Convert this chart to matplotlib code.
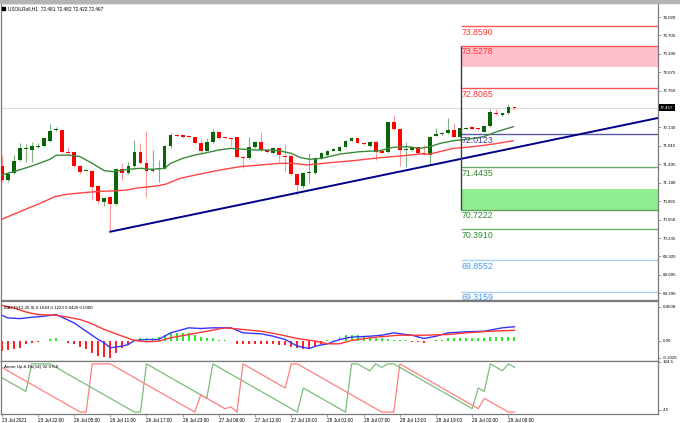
import matplotlib
matplotlib.use('Agg')
import matplotlib.pyplot as plt
import matplotlib.transforms as mtransforms
from matplotlib.patches import Rectangle
import numpy as np

plt.rcParams['font.family'] = ['Liberation Sans', 'DejaVu Sans']

# hourly candles USOILRoll H1, 86 bars
opens = [71.469, 71.229, 71.343, 71.572, 71.754, 71.743, 71.800, 71.811, 71.891, 72.085,
         72.085, 71.714, 71.703, 71.475, 71.389, 71.389, 71.126, 70.852, 70.944, 70.818,
         71.423, 71.355, 71.469, 71.703, 71.526, 71.389, 71.412, 71.423, 71.811, 71.999,
         71.999, 71.983, 71.960, 71.868, 71.731, 71.886, 72.051, 71.960, 71.954, 71.960,
         71.629, 71.600, 71.800, 71.886, 71.743, 71.697, 71.783, 71.646, 71.646, 71.332,
         71.132, 71.355, 71.355, 71.600, 71.651, 71.731, 71.725, 71.800, 71.902, 71.942,
         71.868, 71.811, 71.885, 71.731, 71.703, 72.216, 72.097, 71.743, 71.743, 71.788,
         71.686, 71.657, 71.988, 72.011, 72.028, 72.085, 71.971, 72.108, 72.131, 72.114,
         72.057, 72.154, 72.382, 72.342, 72.370, 72.481]
highs = [71.657, 71.360, 71.657, 71.857, 71.840, 71.886, 71.857, 71.971, 72.188, 72.131,
         72.091, 71.800, 71.714, 71.480, 71.412, 71.400, 71.140, 70.940, 70.950, 71.440,
         71.514, 71.543, 71.914, 71.857, 72.074, 71.743, 71.572, 71.830, 72.028, 72.010,
         72.010, 71.995, 71.971, 71.926, 71.943, 72.102, 72.060, 71.971, 71.965, 71.971,
         71.640, 71.960, 71.900, 72.057, 71.760, 71.800, 71.800, 71.840, 71.660, 71.340,
         71.370, 71.686, 71.620, 71.710, 71.745, 71.770, 71.815, 71.915, 71.971, 71.955,
         71.875, 71.895, 71.900, 71.740, 72.225, 72.342, 72.110, 71.885, 71.800, 71.800,
         71.828, 71.985, 72.114, 72.050, 72.285, 72.199, 72.125, 72.140, 72.145, 72.125,
         72.171, 72.439, 72.439, 72.380, 72.530, 72.482]
lows = [71.201, 71.201, 71.332, 71.560, 71.543, 71.543, 71.771, 71.800, 71.880, 72.074,
        71.697, 71.657, 71.457, 71.332, 71.383, 70.887, 70.818, 70.784, 70.344, 70.800,
        71.229, 71.340, 71.455, 71.514, 70.944, 71.372, 71.201, 71.410, 71.780, 71.960,
        71.950, 71.940, 71.850, 71.674, 71.720, 71.870, 71.937, 71.930, 71.811, 71.610,
        71.429, 71.590, 71.780, 71.730, 71.690, 71.680, 71.543, 71.372, 71.320, 70.972,
        71.086, 71.184, 71.340, 71.590, 71.640, 71.720, 71.710, 71.790, 71.890, 71.855,
        71.830, 71.800, 71.571, 71.690, 71.690, 72.085, 71.469, 71.457, 71.730, 71.674,
        71.660, 71.486, 71.975, 72.000, 72.020, 71.960, 71.960, 72.100, 72.100, 72.090,
        72.050, 72.145, 72.345, 72.330, 72.360, 72.422]
closes = [71.229, 71.332, 71.560, 71.783, 71.783, 71.811, 71.817, 71.948, 72.074, 72.091,
          71.703, 71.697, 71.475, 71.372, 71.400, 71.115, 70.870, 70.927, 70.818, 71.423,
          71.355, 71.469, 71.703, 71.526, 71.389, 71.412, 71.429, 71.811, 71.999, 71.983,
          71.971, 71.960, 71.868, 71.731, 71.886, 72.051, 71.948, 71.943, 71.937, 71.629,
          71.600, 71.800, 71.886, 71.743, 71.703, 71.783, 71.657, 71.629, 71.332, 71.144,
          71.355, 71.372, 71.600, 71.697, 71.731, 71.754, 71.800, 71.902, 71.942, 71.868,
          71.840, 71.885, 71.714, 71.697, 72.216, 72.097, 71.743, 71.765, 71.788, 71.686,
          71.674, 71.971, 72.011, 72.039, 72.085, 71.971, 72.114, 72.125, 72.108, 72.097,
          72.154, 72.399, 72.353, 72.370, 72.485, 72.467]

# moving averages (bar index, price)
green_ma_idx = [0, 2, 5, 8, 9, 11, 13, 15, 17, 18.5, 21, 23, 25, 27, 28, 30, 32, 34, 36, 38,
                39.5, 42, 44, 46, 48, 49.4, 51, 53, 56.1, 59.4, 62.7, 64.9, 67.2, 69.4, 71,
                72.7, 74.9, 77.1, 79.9, 82.1, 84.8]
green_ma = [71.315, 71.372, 71.469, 71.583, 71.652, 71.657, 71.629, 71.514, 71.389, 71.372,
            71.412, 71.429, 71.412, 71.429, 71.514, 71.600, 71.657, 71.697, 71.743, 71.771,
            71.760, 71.743, 71.743, 71.731, 71.686, 71.617, 71.583, 71.600, 71.674, 71.714,
            71.731, 71.788, 71.800, 71.771, 71.800, 71.857, 71.902, 71.925, 71.971, 72.057,
            72.142]
red_ma_idx = [0, 3, 6.4, 8.8, 10.8, 13.5, 16.3, 18.5, 20.7, 22.9, 25.7, 27.3, 29.6, 32.9,
              36.2, 39.5, 42.8, 46.1, 48.3, 50.6, 52.8, 54.4, 58.3, 62.7, 66.1, 69.4, 71,
              74.9, 78.2, 81.5, 84.8]
red_ma = [70.556, 70.687, 70.830, 70.944, 70.984, 71.012, 71.035, 71.041, 71.058, 71.098,
          71.126, 71.161, 71.258, 71.332, 71.400, 71.457, 71.486, 71.514, 71.514, 71.486,
          71.508, 71.526, 71.560, 71.611, 71.640, 71.674, 71.674, 71.771, 71.800, 71.845,
          71.900]

trend_x = [18, 108.8]
trend_y = [70.344, 72.291]

level_start = 76.1
level_values = [74.3846, 73.8590, 73.5278, 72.8065, 72.0123, 71.4435, 70.7222, 70.3910,
                69.8552, 69.3159]
level_labels = ['74.3846', '73.8590', '73.5278', '72.8065', '72.0123', '71.4435', '70.7222',
                '70.3910', '69.8552', '69.3159']
level_line_colors = ['#a8cff5', '#ff5555', '#ff5555', '#ff5555', '#5a5aa8', '#6aaf6a',
                     '#5f9f5f', '#6aaf6a', '#a8cff5', '#a8cff5']
level_text_colors = ['#4499ee', '#ff3333', '#ff3333', '#ff3333', '#3a3a9a', '#2e8b2e',
                     '#2e8b2e', '#2e8b2e', '#4499ee', '#4499ee']
sell_zone = (73.164, 73.5278)
buy_zone = (70.7222, 71.075)
last_price = 72.467

price_ticks = [74.020, 73.705, 73.390, 73.075, 72.760, 72.130, 71.815, 71.495, 71.180,
               70.865, 70.550, 70.235, 69.920, 69.605, 69.290]

# MACD(12,26,9)
macd_idx = [0, 1, 3, 5, 7, 9, 10, 12, 14, 16, 17, 18, 20, 21, 22, 24, 26, 28, 30, 31, 33,
            35, 38, 40, 43, 45, 47, 49, 51, 52, 54, 56, 58, 61, 63, 65, 67, 68, 70, 72, 74,
            77, 80, 83, 85]
macd_main = [0.300, 0.268, 0.260, 0.276, 0.288, 0.307, 0.276, 0.209, 0.111, 0.013, -0.026,
             -0.085, -0.065, -0.045, 0.002, 0.013, 0.013, 0.092, 0.131, 0.151, 0.143, 0.151,
             0.151, 0.092, 0.080, 0.052, 0.013, -0.065, -0.093, -0.065, -0.038, 0.013, 0.041,
             0.052, 0.064, 0.092, 0.072, 0.064, 0.025, 0.052, 0.092, 0.104, 0.111, 0.151,
             0.164]
signal_idx = [0, 2, 4, 6, 9, 11, 13, 15, 17, 20, 22, 24, 26, 28, 31, 34, 37, 40, 43, 46, 49,
              52, 54, 56, 58, 62, 66, 70, 74, 77, 81, 85]
signal = [0.417, 0.386, 0.339, 0.307, 0.300, 0.276, 0.249, 0.198, 0.131, 0.052, 0.002,
          -0.014, -0.006, 0.033, 0.072, 0.111, 0.151, 0.131, 0.111, 0.072, 0.025, -0.006,
          -0.038, -0.038, 0.002, 0.041, 0.064, 0.064, 0.072, 0.092, 0.111, 0.122]
hist = [-0.124, -0.116, -0.104, -0.085, -0.045, -0.026, -0.014, -0.005, 0.021, 0.025,
        -0.006, -0.026, -0.045, -0.077, -0.104, -0.143, -0.182, -0.194, -0.210, -0.143,
        -0.085, -0.038, 0.013, 0.033, 0.033, 0.033, 0.041, 0.072, 0.092, 0.092,
        0.092, 0.092, 0.064, 0.041, 0.033, 0.025, 0.013, 0.005, -0.006, -0.038,
        -0.045, -0.045, -0.045, -0.045, -0.045, -0.045, -0.053, -0.057, -0.077, -0.085,
        -0.104, -0.093, -0.065, -0.038, 0.005, 0.013, 0.041, 0.064, 0.072, 0.072,
        0.052, 0.041, 0.033, 0.025, 0.021, 0.013, 0.005, 0.002, -0.014, -0.018,
        -0.026, -0.006, 0.005, 0.013, 0.025, 0.033, 0.033, 0.033, 0.033, 0.025,
        0.033, 0.041, 0.041, 0.041, 0.043, 0.042]

# Aroon(14)
aroon_up = [71.4, 64.3, 57.1, 50.0, 42.9, 100, 100, 100, 100, 92.9,
            85.7, 78.6, 71.4, 64.3, 57.1, 50.0, 42.9, 35.7, 28.6, 21.4,
            14.3, 7.1, 0, 0, 100, 92.9, 85.7, 78.6, 71.4, 64.3,
            57.1, 50.0, 42.9, 35.7, 28.6, 100, 92.9, 85.7, 78.6, 71.4,
            64.3, 57.1, 50.0, 42.9, 35.7, 28.6, 21.4, 14.3, 7.1, 0,
            50.0, 42.9, 35.7, 28.6, 21.4, 14.3, 7.1, 0, 100, 100,
            92.9, 85.7, 100, 92.9, 100, 100, 92.9, 85.7, 78.6, 71.4,
            64.3, 57.1, 50.0, 42.9, 35.7, 28.6, 21.4, 14.3, 7.1, 50.0,
            42.9, 100, 92.9, 85.7, 100, 92.9]
aroon_down = [92.9, 85.7, 78.6, 71.4, 64.3, 57.1, 50.0, 42.9, 35.7, 28.6,
              21.4, 14.3, 7.1, 0, 0, 100, 100, 100, 100, 92.9,
              85.7, 78.6, 71.4, 64.3, 57.1, 50.0, 42.9, 35.7, 28.6, 21.4,
              14.3, 7.1, 0, 35.7, 28.6, 21.4, 14.3, 7.1, 10.7, 0,
              100, 92.9, 85.7, 78.6, 71.4, 64.3, 57.1, 50.0, 100, 100,
              92.9, 85.7, 78.6, 71.4, 64.3, 57.1, 50.0, 42.9, 35.7, 28.6,
              21.4, 14.3, 7.1, 0, 0, 0, 100, 92.9, 85.7, 78.6,
              71.4, 64.3, 57.1, 50.0, 42.9, 35.7, 28.6, 21.4, 14.3, 7.1,
              28.6, 21.4, 14.3, 7.1, 0, 0]

time_tick_idx = list(range(0, 85, 6))
time_labels = ['23 Jul 2021', '23 Jul 22:00', '26 Jul 05:00', '26 Jul 11:00', '26 Jul 17:00',
               '26 Jul 23:00', '27 Jul 06:00', '27 Jul 12:00', '27 Jul 18:00', '28 Jul 01:00',
               '28 Jul 07:00', '28 Jul 13:00', '28 Jul 19:00', '29 Jul 02:00', '29 Jul 08:00']

header = 'USOILRoll,H1  72.481 72.482 72.422 72.467'
macd_header = 'MACD(12,26,9) 0.1643 0.1223 0.0420 0.0000'
aroon_header = 'Aroon Up & Dn(14) 92.9 0.0'

#####################
W, H = 680, 423
fig = plt.figure(figsize=(W / 100, H / 100), dpi=100)


def box(x0, y0, x1, y1):
    return [x0 / W, 1 - y1 / H, (x1 - x0) / W, (y1 - y0) / H]


ax = fig.add_axes(box(1, 3, 658, 300))
ax2 = fig.add_axes(box(1, 301, 658, 361))
ax3 = fig.add_axes(box(1, 361, 658, 414))
xlim = (-0.12, 108.8)
small = 3.2

for a in (ax, ax2, ax3):
    a.set_xlim(*xlim)
    for s in a.spines.values():
        s.set_color('#7a7a7a')
        s.set_linewidth(0.9)
    a.yaxis.tick_right()
    a.tick_params(axis='y', length=2, width=0.5, colors='#7a7a7a', labelcolor='black',
                  labelsize=small, pad=1.5)
ax.set_xticks([])
ax2.set_xticks([])

# top strip
fig.patches.append(Rectangle((0, 1 - 3 / H), 1, 3 / H, transform=fig.transFigure,
                             color='#b4b4b4', zorder=0))

# main chart
ax.set_ylim(69.174, 74.260)
ax.set_yticks(price_ticks)
ax.set_yticklabels(['%.3f' % p for p in price_ticks])
ax.axhline(last_price, color='#dadada', lw=0.8, zorder=1)

idx = np.arange(len(opens))
o = np.array(opens)
c = np.array(closes)
up = c >= o
ax.vlines(idx, lows, highs, colors=np.where(up, '#7fb27f', '#ff9a9a'), lw=0.8, zorder=2)
ax.bar(idx, np.maximum(np.abs(c - o), 0.012), bottom=np.minimum(o, c), width=0.62,
       color=np.where(up, '#0a640a', '#ff0000'), linewidth=0, zorder=3)

ax.plot(green_ma_idx, green_ma, color='#3a8a3a', lw=1, zorder=4)
ax.plot(red_ma_idx, red_ma, color='#ff4444', lw=1, zorder=4)
ax.plot(trend_x, trend_y, color='#000088', lw=1.4, zorder=5)

ax.add_patch(Rectangle((level_start, sell_zone[0]), xlim[1] - level_start,
                       sell_zone[1] - sell_zone[0], color='#ffc0cb', lw=0, zorder=1))
ax.add_patch(Rectangle((level_start, buy_zone[0]), xlim[1] - level_start,
                       buy_zone[1] - buy_zone[0], color='#90ee90', lw=0, zorder=1))
ax.vlines(level_start, buy_zone[0], sell_zone[1], color='#404040', lw=1, zorder=5)
ax.hlines(level_values, level_start, xlim[1], colors=level_line_colors, lw=1, zorder=2)
for v, t, col in zip(level_values, level_labels, level_text_colors):
    ax.annotate(t, (level_start, v), xytext=(0.6, -1.2), textcoords='offset points',
                va='top', ha='left', fontsize=6.3, color=col, annotation_clip=False,
                zorder=6)

tr = mtransforms.blended_transform_factory(ax.transAxes, ax.transData)
ax.text(1.003, last_price, '%.3f' % last_price, transform=tr, va='center', ha='left',
        fontsize=small, color='white',
        bbox=dict(facecolor='black', edgecolor='none', pad=0.9))

fig.patches.append(Rectangle((2 / W, 1 - 10 / H), 3 / W, 3 / H, transform=fig.transFigure,
                             color='black'))
fig.text(8 / W, 1 - 8.5 / H, header, fontsize=3.4, va='center', ha='left')

# MACD
ax2.set_ylim(-0.241, 0.468)
ax2.set_yticks([0.4008, 0.0, -0.2026])
ax2.set_yticklabels(['0.4008', '0.00', '-0.2026'])
h = np.array(hist)
ax2.bar(idx, h, width=0.32, color=np.where(h >= 0, '#22ee22', '#ff2222'), linewidth=0)
ax2.plot(macd_idx, macd_main, color='#3535ff', lw=1)
ax2.plot(signal_idx, signal, color='#ff3535', lw=1)
ax2.text(0.004, 0.92, macd_header, transform=ax2.transAxes, fontsize=small, va='top')

# Aroon
ax3.set_ylim(-4, 106)
ax3.set_yticks([104.5, 4.5])
ax3.set_yticklabels(['104.5', '4.5'])
ax3.plot(idx, aroon_up, color='#7cbc7c', lw=0.9)
ax3.plot(idx, aroon_down, color='#ff8080', lw=0.9)
ax3.text(0.004, 0.93, aroon_header, transform=ax3.transAxes, fontsize=small, va='top')
ax3.set_xticks(time_tick_idx)
ax3.set_xticklabels(time_labels, ha='left')
ax3.tick_params(axis='x', length=2, width=0.5, colors='#7a7a7a', labelcolor='black',
                labelsize=3.4, pad=1)

fig.savefig('out.png', dpi=100)
